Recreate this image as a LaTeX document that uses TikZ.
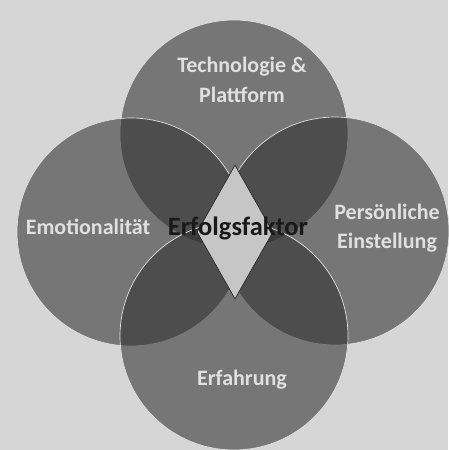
\documentclass[tikz,border=0pt]{standalone}
\usepackage{fontspec}
\setmainfont{Carlito}
\usetikzlibrary{shapes.geometric}
\definecolor{paper}{gray}{0.84}
\definecolor{ring}{gray}{0.18}
\definecolor{rim}{gray}{0.88}
\tikzset{%
  field/.style={%
    circle,%
    draw=rim,%
    line width=0.7pt,%
    fill=ring,%
    fill opacity=0.57,%
    minimum size=228pt,%
    inner sep=0pt},
  fieldtext/.style={%
    text=rim,%
    align=center,%
    font=\fontsize{22}{29.5}\selectfont\bfseries},
  core/.style={%
    diamond,%
    draw=black!85,%
    line width=0.7pt,%
    fill=gray!45,%
    minimum width=76pt,%
    minimum height=134pt,%
    inner sep=0pt}
}

\begin{document}
\begin{tikzpicture}[x=1pt,y=-1pt]
  \fill [paper] (0,0) rectangle (448,450);
  \useasboundingbox (0,0) rectangle (448,450);
  % the four fields
  \node [field] (tech) at (234,134) {};
  \node [field] (emo) at (131,232) {};
  \node [field] (pers) at (335,231) {};
  \node [field] (erf) at (234,336) {};
  % centre
  \node [core] (erfolg) at (235,232) {};
  \node [font=\fontsize{26.5}{30}\selectfont\bfseries, text=black!90] (erfolgtext) at (238,228) {Erfolgsfaktor};
  % texts
  \node [fieldtext] (techtext) at (242,80) {Technologie \&\\Plattform};
  \node [fieldtext] (emotext) at (88,227) {Emotionalität};
  \node [fieldtext] (perstext) at (387,228) {Persönliche\\Einstellung};
  \node [fieldtext] (erftext) at (242,380) {Erfahrung};
\end{tikzpicture}
\end{document}
